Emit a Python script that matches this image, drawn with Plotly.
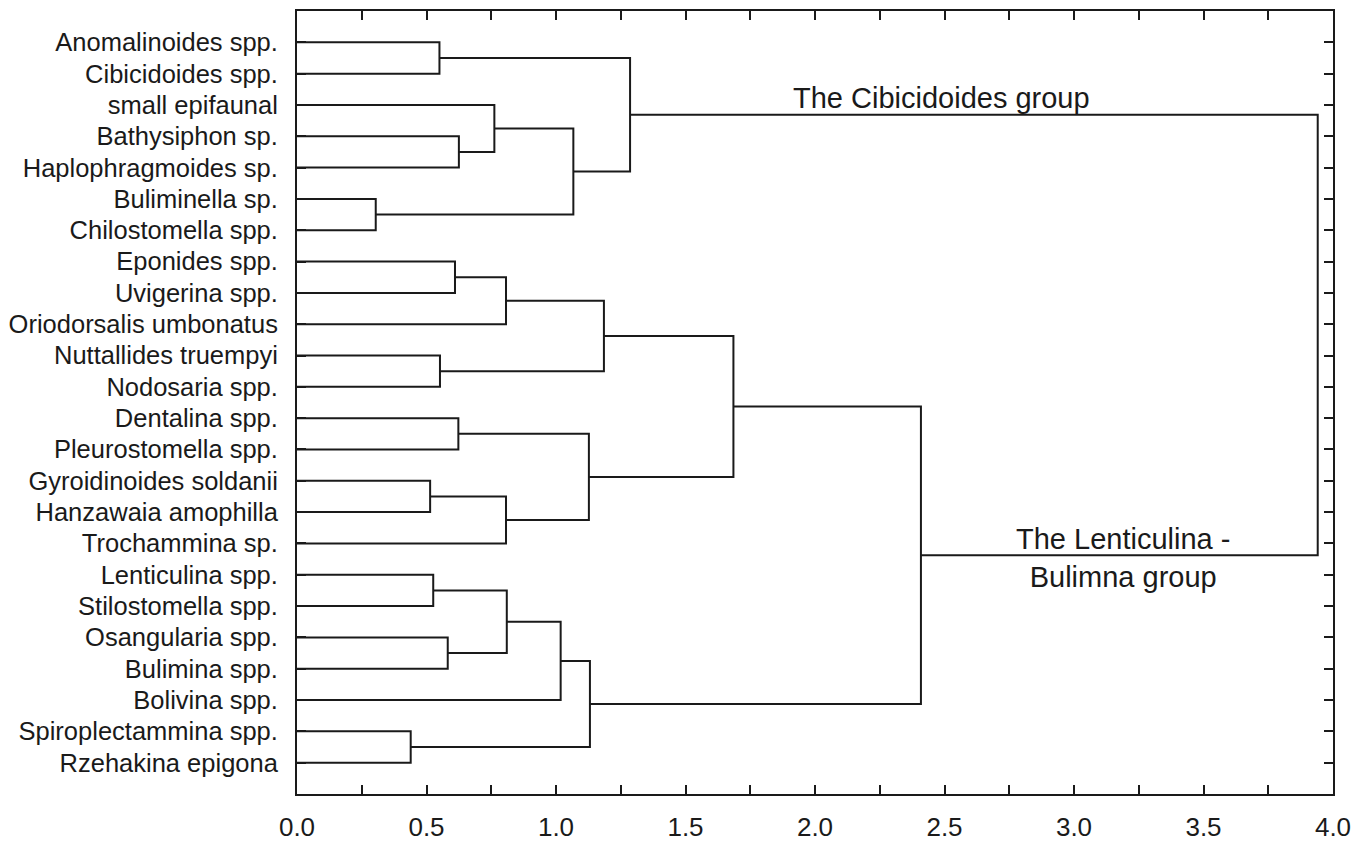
import plotly.graph_objects as go

# Leaf taxa, top to bottom
taxa = [
    "Anomalinoides spp.", "Cibicidoides spp.", "small epifaunal", "Bathysiphon sp.",
    "Haplophragmoides sp.", "Buliminella sp.", "Chilostomella spp.", "Eponides spp.",
    "Uvigerina spp.", "Oriodorsalis umbonatus", "Nuttallides truempyi", "Nodosaria spp.",
    "Dentalina spp.", "Pleurostomella spp.", "Gyroidinoides soldanii", "Hanzawaia amophilla",
    "Trochammina sp.", "Lenticulina spp.", "Stilostomella spp.", "Osangularia spp.",
    "Bulimina spp.", "Bolivina spp.", "Spiroplectammina spp.", "Rzehakina epigona",
]

# Linkage: each merge joins two nodes (leaf index or earlier merge id) at a distance.
# Merge ids continue after the last leaf index (24, 25, ...).
merge_left = [0, 3, 2, 5, 26, 24, 7, 30, 10, 31, 12, 14, 35, 34, 33, 17, 19, 39, 41, 22, 42, 38, 29]
merge_right = [1, 4, 25, 6, 27, 28, 8, 9, 11, 32, 13, 15, 16, 36, 37, 18, 20, 40, 21, 23, 43, 44, 45]
merge_dist = [0.55, 0.625, 0.762, 0.304, 1.067, 1.286, 0.610, 0.807, 0.552, 1.185, 0.623, 0.514,
              0.807, 1.127, 1.685, 0.526, 0.582, 0.810, 1.018, 0.439, 1.131, 2.409, 3.941]

x_ticks = [0.0, 0.5, 1.0, 1.5, 2.0, 2.5, 3.0, 3.5, 4.0]

group_labels = ["The Cibicidoides group", "The Lenticulina -<br>Bulimna group"]

# Node positions: leaves sit at their row, merges at the midpoint of their children
n = len(taxa)
pos = {i: float(i) for i in range(n)}
hgt = {i: 0.0 for i in range(n)}
xs, ys = [], []
for k, (a, b, d) in enumerate(zip(merge_left, merge_right, merge_dist)):
    node = n + k
    xs += [hgt[a], d, d, hgt[b], None]
    ys += [pos[a], pos[a], pos[b], pos[b], None]
    pos[node] = (pos[a] + pos[b]) / 2
    hgt[node] = d

fig = go.Figure()
fig.add_trace(go.Scatter(
    x=xs, y=ys, mode="lines",
    line=dict(color="#1a1a1a", width=2),
    hoverinfo="skip", showlegend=False,
))

font_main = "Liberation Sans, Arial, sans-serif"

# Group labels placed relative to the two main clusters
cib_node, len_node = merge_left[-1], merge_right[-1]
fig.add_annotation(x=2.49, y=pos[cib_node] - 0.52, text=group_labels[0], showarrow=False,
                   xref="x", yref="y", xanchor="center", yanchor="middle",
                   font=dict(family=font_main, size=29, color="#1a1a1a"))
fig.add_annotation(x=3.19, y=pos[len_node] + 0.08, text=group_labels[1], showarrow=False,
                   xref="x", yref="y", xanchor="center", yanchor="middle",
                   font=dict(family=font_main, size=29, color="#1a1a1a"))

fig.update_layout(
    width=1367, height=851,
    margin=dict(l=297, r=34, t=9, b=51),
    paper_bgcolor="white", plot_bgcolor="white",
    font=dict(family=font_main, color="#1a1a1a"),
    showlegend=False,
)
fig.update_xaxes(
    range=[0, 4], tickvals=x_ticks, ticktext=[f"{v:.1f}" for v in x_ticks],
    ticks="inside", ticklen=9, tickwidth=1.5, tickcolor="#1a1a1a",
    minor=dict(dtick=0.25, ticks="inside", ticklen=9, tickwidth=1.5, tickcolor="#1a1a1a"),
    showline=True, linecolor="#1a1a1a", linewidth=2, mirror="ticks",
    showgrid=False, zeroline=False, ticklabelstandoff=9,
    tickfont=dict(family=font_main, size=26, color="#1a1a1a"),
)
fig.update_yaxes(
    range=[24, -1], tickvals=list(range(n)), ticktext=taxa,
    ticks="inside", ticklen=9, tickwidth=1.5, tickcolor="#1a1a1a",
    showline=True, linecolor="#1a1a1a", linewidth=2, mirror="ticks",
    showgrid=False, zeroline=False, ticklabelstandoff=12,
    tickfont=dict(family=font_main, size=25.5, color="#1a1a1a"),
)

fig.write_html("out.html")
